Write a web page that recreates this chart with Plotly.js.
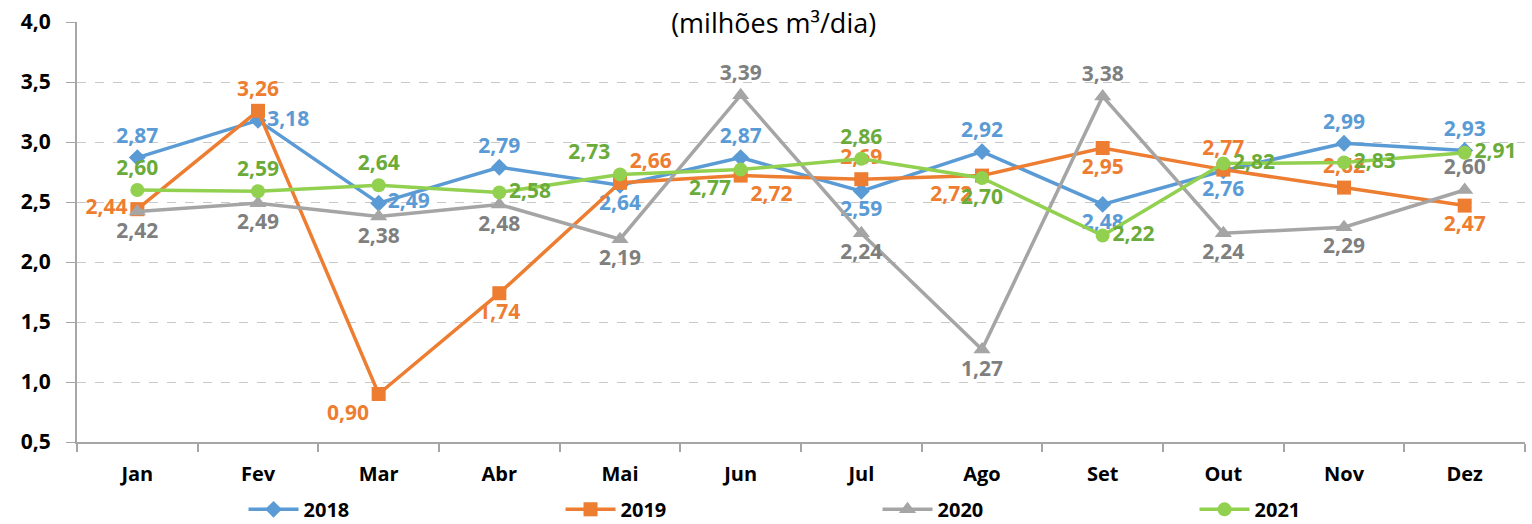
<!DOCTYPE html>
<html><head><meta charset="utf-8">
<script src="https://cdn.plot.ly/plotly-3.0.1.min.js"></script>
<style>html,body{margin:0;padding:0;background:#fff}#c{width:1532px;height:524px}</style>
</head><body><div id="c"></div>
<script>
const months = ["Jan","Fev","Mar","Abr","Mai","Jun","Jul","Ago","Set","Out","Nov","Dez"];
const v2018 = [2.87,3.18,2.49,2.79,2.64,2.87,2.59,2.92,2.48,2.76,2.99,2.93];
const v2019 = [2.44,3.26,0.90,1.74,2.66,2.72,2.69,2.72,2.95,2.77,2.62,2.47];
const v2020 = [2.42,2.49,2.38,2.48,2.19,3.39,2.24,1.27,3.38,2.24,2.29,2.60];
const v2021 = [2.60,2.59,2.64,2.58,2.73,2.77,2.86,2.70,2.22,2.82,2.83,2.91];

const pos2018 = ["top center","middle right","middle right","top center","bottom center","top center","bottom center","top center","bottom center","bottom center","top center","top center"];
const pos2019 = ["middle left","top center","bottom left","bottom center","top right","bottom right","top center","bottom left","bottom center","top center","top center","bottom center"];
const pos2020 = ["bottom center","bottom center","bottom center","bottom center","bottom center","top center","bottom center","bottom center","top center","bottom center","bottom center","top center"];
const pos2021 = ["top center","top center","top center","middle right","top left","bottom left","top center","bottom center","middle right","middle right","middle right","middle right"];

const lf = {family:"'Open Sans', sans-serif", size:21, weight:"bold"};
function tr(name, y, color, txtColor, sym, msize, pos){
  return {type:"scatter", mode:"lines+markers+text", name:name, x:months, y:y,
    line:{color:color, width:3.5}, marker:{symbol:sym, size:msize, color:color},
    texttemplate:"%{y:.2f}", textposition:pos,
    textfont:Object.assign({}, lf, {color:txtColor}), cliponaxis:false};
}
const data = [
  tr("2018", v2018, "#5B9BD5", "#5B9BD5", "diamond", 13, pos2018),
  tr("2019", v2019, "#ED7D31", "#ED7D31", "square", 14, pos2019),
  tr("2020", v2020, "#A5A5A5", "#7F7F7F", "triangle-up", 15, pos2020),
  tr("2021", v2021, "#92D050", "#6AAB3A", "circle", 14, pos2021)
];
const layout = {
  width:1532, height:524,
  margin:{l:77, r:7, t:22, b:82},
  paper_bgcolor:"#fff", plot_bgcolor:"#fff",
  separators:",.",
  showlegend:true,
  title:{text:"(milhões m³/dia)", x:0.505, xanchor:"center", y:0.955, yanchor:"middle", yref:"container",
    font:{family:"'Open Sans', sans-serif", size:27, color:"#000"}},
  xaxis:{type:"category", range:[-0.5,11.5], showline:true, linecolor:"#A6A6A6", linewidth:2,
    ticks:"outside", tickson:"boundaries", ticklen:8, tickcolor:"#A6A6A6", tickwidth:2,
    showgrid:false, ticklabelstandoff:13, automargin:false,
    tickfont:{family:"'Open Sans', sans-serif", size:20, weight:"bold", color:"#000"}},
  yaxis:{range:[0.5,4.0], dtick:0.5, tickformat:".1f", showline:true, linecolor:"#A6A6A6", linewidth:2,
    ticks:"outside", ticklen:9, tickcolor:"#A6A6A6", tickwidth:1, automargin:false,
    ticklabelstandoff:11,
    showgrid:true, gridcolor:"#C8C8C8", griddash:"dash", gridwidth:1, zeroline:false,
    tickfont:{family:"'Open Sans', sans-serif", size:21, weight:"bold", color:"#000"}},
  legend:{orientation:"h", x:0.115, xanchor:"left", y:0.028, yanchor:"middle", yref:"container",
    entrywidth:252, entrywidthmode:"pixels", itemwidth:50,
    font:{family:"'Open Sans', sans-serif", size:20, weight:"bold", color:"#000"}}
};
Plotly.newPlot("c", data, layout, {displayModeBar:false});
</script></body></html>
